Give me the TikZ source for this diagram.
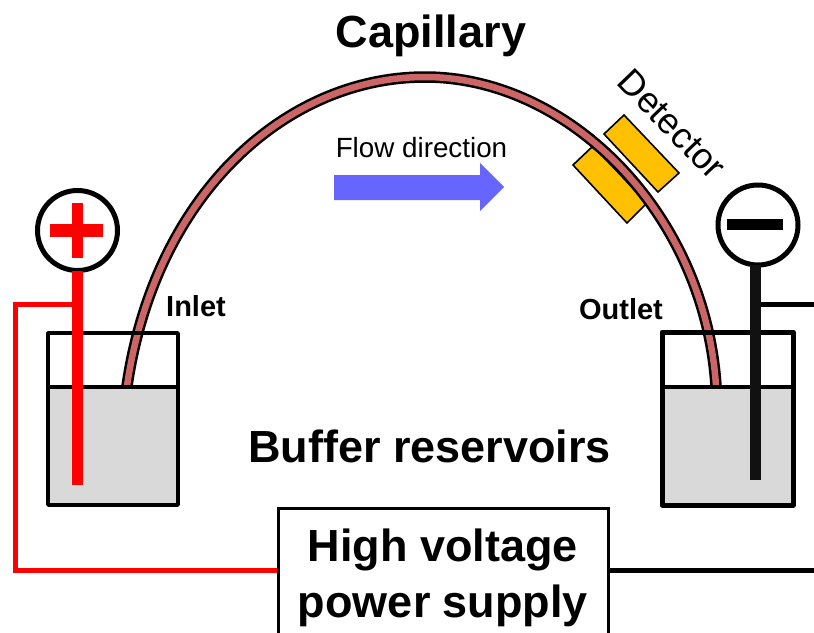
\documentclass[tikz,border=0pt]{standalone}
\usepackage{fontspec}
\setmainfont{Liberation Sans}
\definecolor{tubecol}{HTML}{CC6666}
\definecolor{detcol}{HTML}{FFC000}
\definecolor{buffercol}{HTML}{D9D9D9}
\definecolor{arrowcol}{HTML}{6666FF}
\definecolor{elecblack}{HTML}{111111}
\tikzset{
  beaker/.style={draw=black,line width=#1,line join=round},
  detector/.style={draw=black,line width=1.6pt,fill=detcol,line join=miter},
  sign/.style={draw=black,line width=5pt,fill=white,circle,minimum size=80pt,inner sep=0pt,outer sep=0pt},
  bold44/.style={font=\fontsize{45}{56}\selectfont\bfseries,inner sep=0pt},
  bold28/.style={font=\fontsize{29}{32}\selectfont\bfseries,inner sep=0pt},
}
\begin{document}
\begin{tikzpicture}[x=1pt,y=-1pt]
\useasboundingbox (0,0) rectangle (814,632);
\clip (0,0) rectangle (814,632);
% named points
\coordinate (wireLa) at (75,304);
\coordinate (wireLb) at (15,304);
\coordinate (hvL) at (277,570);
\coordinate (wireRa) at (760,304);
\coordinate (wireRb) at (814,304);
\coordinate (wireRc) at (814,570);
\coordinate (hvR) at (608,570);
% wires
\draw[red,line width=5pt,line join=miter] (wireLa) -- (wireLb) |- (hvL);
\draw[black,line width=5pt] (wireRa) -- (wireRb);
\draw[black,line width=5pt] (hvR) -- (wireRc);
% buffers
\fill[buffercol] (48,387) rectangle (178,505);
\fill[buffercol] (662,387) rectangle (793,505);
% detector, lower half under the capillary
\draw[detector] (593,146) -- (647,203) -- (627,223) -- (573,165) -- cycle;
\draw[detector] (624,115) -- (679,173) -- (658,192) -- (604,134) -- cycle;
% capillary
\def\capcurve{(127,386) .. controls (155,195) and (285,77) .. (425,77) .. controls (570,77) and (705,215) .. (716,386)}
\draw[black,line width=11.5pt] \capcurve;
\draw[tubecol,line width=6.5pt] \capcurve;
% beakers
\draw[beaker=3.5pt] (48,333) rectangle (178,505);
\draw[beaker=3.5pt] (48,387) -- (178,387);
\draw[beaker=5pt] (662,332) rectangle (793,505);
\draw[beaker=3.5pt] (662,387) -- (793,387);
% electrodes
\node[sign] (plus) at (77.5,230.5) {};
\node[sign] (minus) at (758,225) {};
\coordinate (redEnd) at (77,485);
\coordinate (blackEnd) at (755.5,480);
\draw[red,line width=11pt] (plus.south -| redEnd) -- (redEnd);
\draw[elecblack,line width=11pt] (minus.south -| blackEnd) -- (blackEnd);
\fill[red] (72,203) rectangle (83,258);
\fill[red] (50,224) rectangle (103,237);
\fill[black] (727,219) rectangle (783,230);
% flow arrow
\fill[arrowcol] (334,175) -- (480,175) -- (480,163) -- (504,187) -- (480,211) -- (480,200) -- (334,200) -- cycle;
% labels
\node[bold44] (capillary) at (431,36) {Capillary};
\node[font=\fontsize{27.8}{32}\selectfont,inner sep=0pt] (flow) at (421.5,148) {Flow direction};
\node[font=\fontsize{36}{40}\selectfont,inner sep=0pt,rotate=-46] (det) at (672,124) {Detector};
\node[bold28] (inlet) at (196,306) {Inlet};
\node[bold28] (outlet) at (621,309) {Outlet};
\node[bold44] (buffer) at (429.5,446) {Buffer reservoirs};
\node[draw=black,line width=3pt,fill=white,minimum width=330pt,minimum height=146pt,inner sep=0pt,anchor=north west,align=center] (hv) at (276.5,506.5) {};
\node[bold44,align=center,anchor=center] (hvtext) at (443,578) {High voltage\\power supply};
\end{tikzpicture}
\end{document}
